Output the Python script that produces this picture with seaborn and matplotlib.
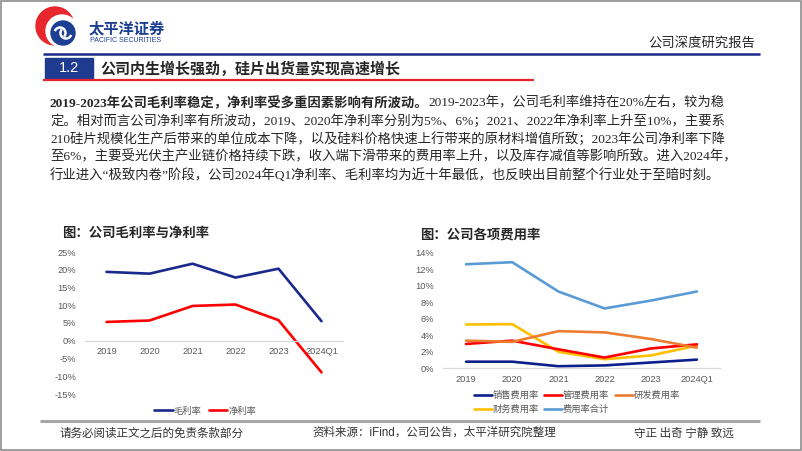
import matplotlib
matplotlib.use('Agg')
import matplotlib.pyplot as plt
import matplotlib.patches as patches
from matplotlib.ticker import FuncFormatter, MultipleLocator
import seaborn as sns
import pandas as pd

sns.set_theme(style='white')
plt.rcParams['font.family'] = ['Liberation Sans', 'Noto Sans CJK SC', 'DejaVu Sans']

W, H = 802, 451

# ---Data (in %)---
periods = ['2019', '2020', '2021', '2022', '2023', '2024Q1']
gross_margin = [19.4, 18.9, 21.7, 17.8, 20.3, 5.5]
net_margin = [5.3, 5.7, 9.8, 10.2, 5.8, -8.9]

selling_rate = [0.8, 0.8, 0.25, 0.35, 0.7, 1.05]
admin_rate = [2.95, 3.35, 2.3, 1.3, 2.4, 2.9]
rd_rate = [3.35, 3.2, 4.5, 4.35, 3.55, 2.5]
finance_rate = [5.3, 5.35, 2.0, 1.1, 1.55, 2.75]
total_rate = [12.6, 12.85, 9.3, 7.25, 8.2, 9.3]

para_bold = '2019-2023年公司毛利率稳定，净利率受多重因素影响有所波动。'
para_lines = [
    '2019-2023年，公司毛利率维持在20%左右，较为稳',
    '定。相对而言公司净利率有所波动，2019、2020年净利率分别为5%、6%；2021、2022年净利率上升至10%，主要系',
    '210硅片规模化生产后带来的单位成本下降，以及硅料价格快速上行带来的原材料增值所致；2023年公司净利率下降',
    '至6%，主要受光伏主产业链价格持续下跌，收入端下滑带来的费用率上升，以及库存减值等影响所致。进入2024年，',
    '行业进入“极致内卷”阶段，公司2024年Q1净利率、毛利率均为近十年最低，也反映出目前整个行业处于至暗时刻。',
]

NAVY = '#1a2a8c'
RED = '#ff0000'
GREY_TXT = '#595959'
SERIF = ['Liberation Serif', 'Noto Sans CJK SC']
CJK = ['Noto Sans CJK SC', 'DejaVu Sans']


def px_rect(x0, y0, x1, y1):
    return [x0 / W, 1 - y1 / H, (x1 - x0) / W, (y1 - y0) / H]


fig = plt.figure(figsize=(W / 100, H / 100), dpi=100)
fig.patch.set_facecolor('white')

# background layer in pixel coordinates (y down)
bg = fig.add_axes([0, 0, 1, 1])
bg.set_xlim(0, W)
bg.set_ylim(H, 0)
bg.axis('off')

bg.add_patch(patches.Rectangle((0.8, 0.8), W - 1.6, H - 1.6, fill=False, ec='#8c8c8c', lw=1.2))

# ---Header---
bg.add_patch(patches.Circle((55, 26), 19, color='#e8262d'))
bg.add_patch(patches.Circle((62, 31), 16, color='white'))
bg.add_patch(patches.Circle((63, 33), 12, color='#1c3f94'))
bg.add_patch(patches.Arc((60, 33), 11, 11, theta1=200, theta2=40, color='white', lw=1.8))
bg.add_patch(patches.Arc((66, 33), 11, 11, theta1=20, theta2=220, color='white', lw=1.8))
bg.text(89, 28, '太平洋证券', fontsize=11, fontweight='bold', color='#1c3f94', va='center', family=CJK)
bg.text(90, 41, 'PACIFIC SECURITIES', fontsize=5, color='#1c3f94', va='center')
bg.text(755, 43, '公司深度研究报告', fontsize=9.6, ha='right', va='center', family=CJK)
bg.plot([43, 760], [54, 54], color=NAVY, lw=1.8, solid_capstyle='butt')

bg.add_patch(patches.Rectangle((45, 58), 48, 20.5, color='#1f3b8f'))
bg.text(69, 68.5, '1.2', color='white', fontsize=10.5, ha='center', va='center')
bg.plot([43, 534], [80.2, 80.2], color='#e3262b', lw=1.6, solid_capstyle='butt')
bg.text(100, 68.5, '公司内生增长强劲，硅片出货量实现高速增长', fontsize=10.8, fontweight='bold',
        va='center', family=CJK)

# ---Paragraph---
line_y = [103, 121, 139, 157, 175]
t0 = bg.text(50, line_y[0], para_bold, fontsize=9.6, fontweight='bold', va='center', family=SERIF)
bg.annotate(para_lines[0], xy=(1, 0.5), xycoords=t0, va='center', fontsize=9.6, family=SERIF)
for y, line in zip(line_y[1:], para_lines[1:]):
    bg.text(50, y, line, fontsize=9.6, va='center', family=SERIF)

# ---Footer---
bg.plot([40, 760], [421, 421], color='#a6a6a6', lw=2.2, solid_capstyle='butt')
bg.text(59, 433, '请务必阅读正文之后的免责条款部分', fontsize=8.3, va='center', color='#333333', family=CJK)
bg.text(312, 433, '资料来源：iFind，公司公告，太平洋研究院整理', fontsize=8.3, va='center', color='#333333')
bg.text(634, 433, '守正 出奇 宁静 致远', fontsize=8.3, va='center', color='#333333', family=CJK)

# ---Chart titles---
bg.text(62, 233, '图：公司毛利率与净利率', fontsize=9.6, fontweight='bold', va='center', family=CJK)
bg.text(420, 234, '图：公司各项费用率', fontsize=9.6, fontweight='bold', va='center', family=CJK)


def style_axis(ax, ymin, ymax, step, zero_spine):
    ax.set_facecolor('none')
    ax.set_xlim(-0.5, len(periods) - 0.5)
    ax.set_ylim(ymin, ymax)
    ax.yaxis.set_major_locator(MultipleLocator(step))
    ax.yaxis.set_major_formatter(FuncFormatter(lambda v, p: f'{v:.0f}%'))
    ax.set(xlabel='', ylabel='')
    for s in ['left', 'right', 'top']:
        ax.spines[s].set_visible(False)
    ax.spines['bottom'].set_color('#d9d9d9')
    ax.spines['bottom'].set_linewidth(0.9)
    if zero_spine:
        ax.spines['bottom'].set_position(('data', 0))
    ax.tick_params(axis='both', length=0, labelsize=6.7, labelcolor=GREY_TXT)
    ax.tick_params(axis='y', pad=6.5)
    ax.tick_params(axis='x', pad=4.5)
    ax.grid(False)


# ---Left chart: margins---
margin_df = pd.DataFrame({'period': periods, '毛利率': gross_margin, '净利率': net_margin})
margin_df = margin_df.melt(id_vars='period', var_name='series', value_name='value')

ax1 = fig.add_axes(px_rect(85, 252, 343, 394))
sns.lineplot(data=margin_df, x='period', y='value', hue='series', palette=[NAVY, RED],
             lw=1.9, sort=False, ax=ax1)
style_axis(ax1, -15, 25, 5, True)
sns.move_legend(ax1, loc='center left', bbox_to_anchor=(154 / W, 1 - 411 / H),
                bbox_transform=fig.transFigure, ncol=2, frameon=False, title=None,
                fontsize=6.7, labelcolor=GREY_TXT, handlelength=2.0, handletextpad=0.1,
                columnspacing=0.8, borderpad=0, borderaxespad=0)

# ---Right chart: expense ratios---
expense_df = pd.DataFrame({'period': periods, '销售费用率': selling_rate, '管理费用率': admin_rate,
                           '研发费用率': rd_rate, '财务费用率': finance_rate, '费用率合计': total_rate})
expense_df = expense_df.melt(id_vars='period', var_name='series', value_name='value')
expense_colors = {'销售费用率': '#0d1f8c', '管理费用率': '#ff0000', '研发费用率': '#ed7d31',
                  '财务费用率': '#ffc000', '费用率合计': '#5b9bd5'}
# column-major order so the legend reads row by row
legend_order = ['销售费用率', '财务费用率', '管理费用率', '费用率合计', '研发费用率']

ax2 = fig.add_axes(px_rect(443, 252.7, 720, 368.3))
sns.lineplot(data=expense_df, x='period', y='value', hue='series', hue_order=legend_order,
             palette=expense_colors, lw=1.9, sort=False, ax=ax2)
style_axis(ax2, 0, 14, 2, False)
sns.move_legend(ax2, loc='upper left', bbox_to_anchor=(474 / W, 1 - 391 / H),
                bbox_transform=fig.transFigure, ncol=3, frameon=False, title=None,
                fontsize=6.7, labelcolor=GREY_TXT, handlelength=1.9, handletextpad=0.1,
                columnspacing=0.6, labelspacing=0.5, borderpad=0, borderaxespad=0)

fig.savefig('out.png', dpi=100)
